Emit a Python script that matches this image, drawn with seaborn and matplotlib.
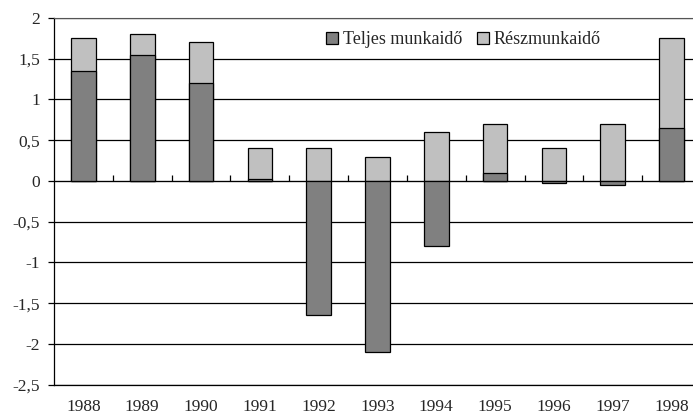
import numpy as np
import pandas as pd
import matplotlib
matplotlib.use("Agg")
import matplotlib.pyplot as plt
import seaborn as sns

years = ["1988", "1989", "1990", "1991", "1992", "1993", "1994", "1995", "1996", "1997", "1998"]
teljes = [1.35, 1.55, 1.2, 0.02, -1.65, -2.1, -0.8, 0.1, -0.02, -0.05, 0.65]
resz = [0.4, 0.25, 0.5, 0.38, 0.4, 0.3, 0.6, 0.6, 0.4, 0.7, 1.1]
yticks = [2, 1.5, 1, 0.5, 0, -0.5, -1, -1.5, -2, -2.5]
ytick_labels = ["2", "1,5", "1", "0,5", "0", "-0,5", "-1", "-1,5", "-2", "-2,5"]

sns.set_style("white")
plt.rcParams["font.family"] = ["Liberation Serif", "DejaVu Serif"]

df = pd.DataFrame({"ev": years, "teljes": teljes, "resz": resz})
# light bar starts at the top of a positive full-time part, else at 0
df["felso"] = df["teljes"].clip(lower=0) + df["resz"]

fig = plt.figure(figsize=(6.93, 4.18), dpi=100)
# plot area continues past the right edge of the picture (cropped like the original)
ax = fig.add_axes([54 / 693, 33.3 / 418, 647 / 693, 366.7 / 418])

sns.barplot(data=df, x="ev", y="felso", color="#c0c0c0", edgecolor="black",
            linewidth=0.9, width=0.42, saturation=1, ax=ax, label="Részmunkaidő", zorder=3)
sns.barplot(data=df, x="ev", y="teljes", color="#808080", edgecolor="black",
            linewidth=0.9, width=0.42, saturation=1, ax=ax, label="Teljes munkaidő", zorder=4)

ax.set_xlim(-0.5, len(years) - 0.5)
ax.set_ylim(-2.5, 2)
ax.set_yticks(yticks, ytick_labels)
ax.set_xlabel("")
ax.set_ylabel("")

ax.grid(axis="y", color="black", linewidth=0.9)
ax.set_axisbelow(True)
ax.spines["right"].set_visible(False)
ax.spines["top"].set_color("#555555")
for s in ["left", "bottom"]:
    ax.spines[s].set_color("black")
    ax.spines[s].set_linewidth(0.9)

ax.tick_params(axis="y", direction="out", length=4, width=0.9, color="black",
               labelsize=12.5, pad=6, left=True)
ax.tick_params(axis="x", length=0, labelsize=12.5, pad=10.5)

# category axis drawn at y = 0, ticks between categories
zero_pos = (0 - (-2.5)) / (2 - (-2.5))
sec = ax.secondary_xaxis(zero_pos)
sec.set_xticks(np.arange(len(years) - 1) + 0.5)
sec.set_xticklabels([])
sec.tick_params(direction="out", length=4, width=0.9, color="black")
sec.spines["bottom"].set_linewidth(0.9)
sec.spines["bottom"].set_color("black")

handles, labels = ax.get_legend_handles_labels()
order = [labels.index("Teljes munkaidő"), labels.index("Részmunkaidő")]
ax.legend([handles[i] for i in order], [labels[i] for i in order],
          loc="center left", bbox_to_anchor=(326 / 693, 1 - 40 / 418),
          bbox_transform=fig.transFigure, ncol=2, frameon=False, fontsize=13,
          handlelength=0.65, handleheight=0.65, handletextpad=0.3,
          columnspacing=0.8, borderpad=0, borderaxespad=0)

fig.savefig("out.png", dpi=100)
plt.close(fig)
